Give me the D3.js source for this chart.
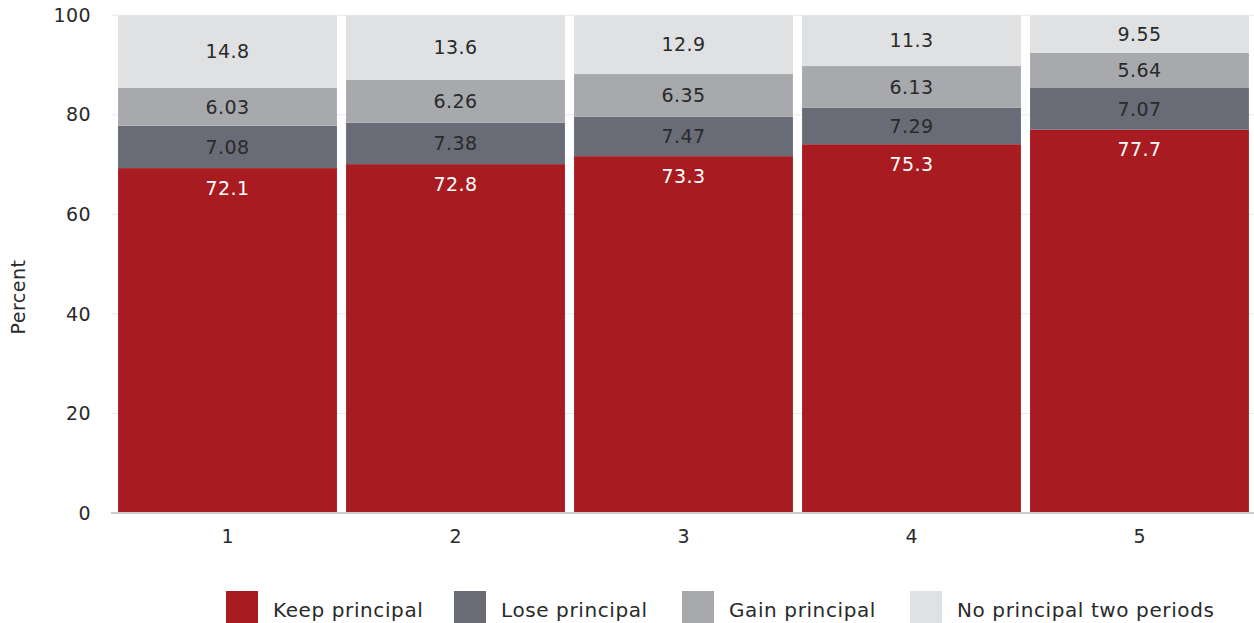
<!DOCTYPE html>
<html>
<head>
<meta charset="utf-8">
<script src="https://cdn.jsdelivr.net/npm/d3@7"></script>
<style>
  html, body { margin: 0; padding: 0; background: #fff; }
  svg { display: block; font-family: "DejaVu Sans", sans-serif; }
</style>
</head>
<body>
<svg id="chart" width="1254" height="623"></svg>
<script>
// ---- data ----
const categories = ["1", "2", "3", "4", "5"];
const seriesNames = ["Keep principal", "Lose principal", "Gain principal", "No principal two periods"];
// segment heights as drawn (percent)
const keepValues  = [69.3, 70.1, 71.7, 74.1, 77.0];
const loseValues  = [8.5, 8.3, 7.9, 7.3, 8.4];
const gainValues  = [7.6, 8.6, 8.6, 8.4, 7.1];
const noneValues  = [14.6, 13.0, 11.8, 10.2, 7.5];
// data labels printed on the segments
const keepLabels  = [72.1, 72.8, 73.3, 75.3, 77.7];
const loseLabels  = [7.08, 7.38, 7.47, 7.29, 7.07];
const gainLabels  = [6.03, 6.26, 6.35, 6.13, 5.64];
const noneLabels  = [14.8, 13.6, 12.9, 11.3, 9.55];
const yTicks = [0, 20, 40, 60, 80, 100];

const colors = ["#A81C21", "#696B77", "#A7A9AC", "#E0E1E3"];
const textColors = ["#ffffff", "#2a2a2a", "#2a2a2a", "#2a2a2a"];

const values = [keepValues, loseValues, gainValues, noneValues];
const labels = [keepLabels, loseLabels, gainLabels, noneLabels];

const svg = d3.select("#chart");
const FS = 19;

const x = d3.scaleBand().domain(categories).range([111, 1256]).paddingInner(0.04).paddingOuter(0.031);
const y = d3.scaleLinear().domain([0, 100]).range([513, 15.3]);

// gridlines
svg.append("g").selectAll("line").data(yTicks.filter(t => t > 0)).join("line")
  .attr("x1", 111).attr("x2", 1254)
  .attr("y1", d => y(d)).attr("y2", d => y(d))
  .attr("stroke", "#ebebeb").attr("stroke-width", 1);

// stack
const rows = categories.map((c, i) => {
  const r = { cat: c };
  seriesNames.forEach((s, k) => { r[s] = values[k][i]; });
  return r;
});
const stack = d3.stack().keys(seriesNames)(rows);

const gBars = svg.append("g");
stack.forEach((layer, k) => {
  gBars.append("g").attr("fill", colors[k]).selectAll("rect").data(layer).join("rect")
    .attr("x", d => x(d.data.cat))
    .attr("width", x.bandwidth())
    .attr("y", d => y(d[1]))
    .attr("height", d => y(d[0]) - y(d[1]));
});

// labels
stack.forEach((layer, k) => {
  svg.append("g").selectAll("text").data(layer).join("text")
    .attr("x", d => x(d.data.cat) + x.bandwidth() / 2)
    .attr("y", (d, i) => k === 0 ? y(d[1]) + 20 : (y(d[0]) + y(d[1])) / 2)
    .attr("dy", "0.35em")
    .attr("text-anchor", "middle")
    .attr("font-size", FS)
    .attr("letter-spacing", "0.4px")
    .attr("fill", textColors[k])
    .text((d, i) => labels[k][i]);
});

// zero line
svg.append("line").attr("x1", 111).attr("x2", 1254).attr("y1", y(0)).attr("y2", y(0))
  .attr("stroke", "#cccccc").attr("stroke-width", 2);

// y axis
const yAxis = svg.append("g").attr("transform", "translate(91,0)")
  .call(d3.axisLeft(y).tickValues(yTicks).tickSize(0).tickPadding(0));
yAxis.select(".domain").remove();
yAxis.selectAll("text").attr("font-size", FS).attr("fill", "#2a2a2a").attr("font-family", "DejaVu Sans, sans-serif").attr("letter-spacing", "0.4px");

// x axis
const xAxis = svg.append("g").attr("transform", "translate(0,529)")
  .call(d3.axisBottom(x).tickSize(0).tickPadding(0));
xAxis.select(".domain").remove();
xAxis.selectAll("text").attr("font-size", FS).attr("fill", "#2a2a2a").attr("font-family", "DejaVu Sans, sans-serif");

// y title
svg.append("text")
  .attr("transform", "translate(18,297) rotate(-90)")
  .attr("text-anchor", "middle").attr("dy", "0.35em")
  .attr("font-size", FS).attr("fill", "#2a2a2a").attr("letter-spacing", "0.5px")
  .text("Percent");

// legend
const legend = svg.append("g").selectAll("g").data(seriesNames).join("g")
  .attr("transform", (d, i) => `translate(${226 + i * 228},591)`);
legend.append("rect").attr("width", 32).attr("height", 32).attr("fill", (d, i) => colors[i]);
legend.append("text").attr("x", 47).attr("y", 19).attr("dy", "0.35em")
  .attr("font-size", 20).attr("letter-spacing", "0.6px")
  .attr("fill", "#2a2a2a").text(d => d);
</script>
</body>
</html>
